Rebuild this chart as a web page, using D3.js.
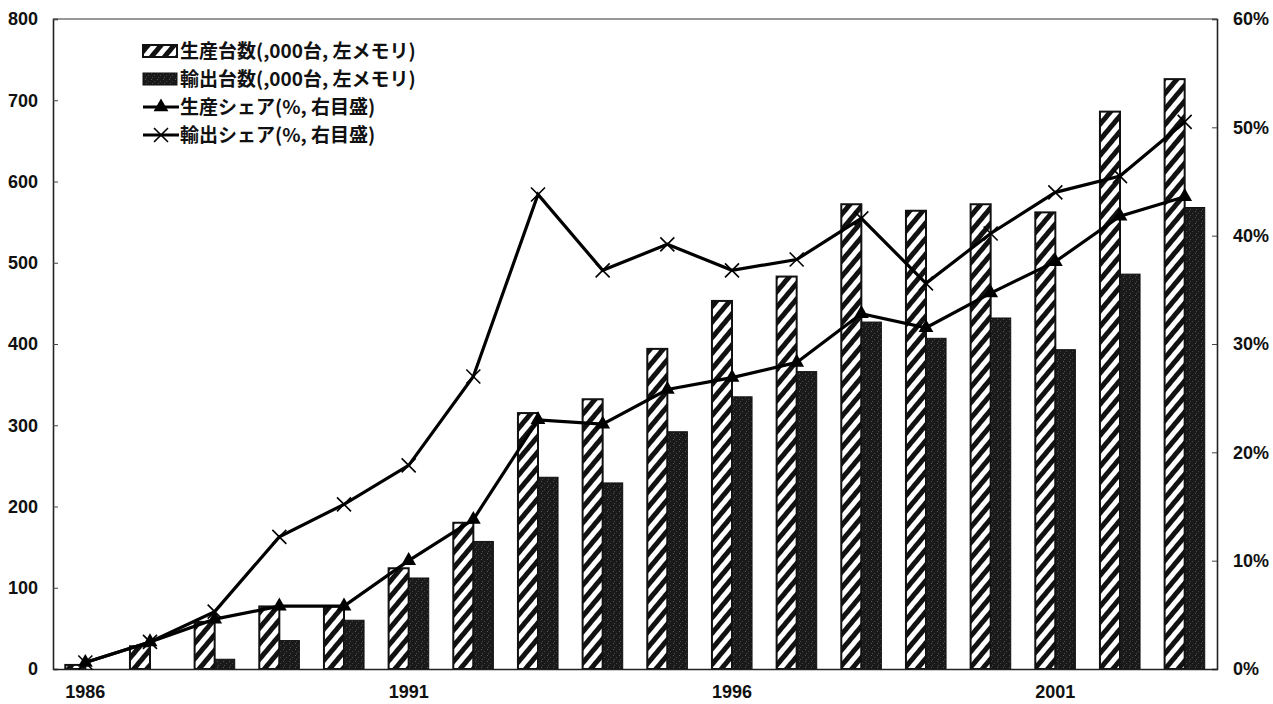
<!DOCTYPE html>
<html>
<head>
<meta charset="utf-8">
<script src="https://cdn.jsdelivr.net/npm/d3@7.9.0/dist/d3.min.js"></script>
<style>
  body { margin: 0; background: #fff; }
  svg { display: block; }
  .tick text { font-family: "Liberation Sans", Arial, sans-serif; font-weight: bold; font-size: 18px; fill: #111; }
  .legend text { font-family: "Noto Sans CJK JP", sans-serif; font-weight: bold; font-size: 19px; fill: #111; }
</style>
</head>
<body>
<svg width="1273" height="704"></svg>
<script>
// data
const years = [1986, 1987, 1988, 1989, 1990, 1991, 1992, 1993, 1994, 1995, 1996, 1997, 1998, 1999, 2000, 2001, 2002, 2003];
const production = [5, 28, 58, 77, 77, 124, 180, 315, 332, 394, 453, 483, 572, 564, 572, 562, 686, 726];
const exportUnits = [0, 0, 12, 35, 60, 112, 157, 236, 229, 292, 335, 366, 427, 407, 432, 393, 486, 568];
const prodShare = [0.6, 2.5, 4.6, 5.8, 5.8, 10.0, 13.8, 23.0, 22.6, 25.8, 26.9, 28.3, 32.8, 31.5, 34.7, 37.6, 41.8, 43.6];
const exportShare = [0.6, 2.5, 5.3, 12.2, 15.2, 18.8, 27.0, 43.8, 36.8, 39.2, 36.8, 37.8, 41.6, 35.6, 40.2, 44.0, 45.5, 50.5];
const xTickLabels = [1986, 1991, 1996, 2001];
const leftTicks = [0, 100, 200, 300, 400, 500, 600, 700, 800];
const rightTicks = [0, 10, 20, 30, 40, 50, 60];
const legendLabels = ['生産台数(,000台, 左メモリ)', '輸出台数(,000台, 左メモリ)', '生産シェア(%, 右目盛)', '輸出シェア(%, 右目盛)'];

const svg = d3.select('svg');
const plotL = 53, plotR = 1217, plotT = 19, plotB = 669;

const x = d3.scaleBand().domain(years).range([plotL, plotR]).paddingInner(0.38).paddingOuter(0.19);
const xSub = d3.scaleBand().domain(['p', 'e']).range([0, x.bandwidth()]);
const y = d3.scaleLinear().domain([0, 800]).range([plotB, plotT]);
const y2 = d3.scaleLinear().domain([0, 60]).range([plotB, plotT]);

// hatch pattern
const defs = svg.append('defs');
const pat = defs.append('pattern')
  .attr('id', 'hatch')
  .attr('patternUnits', 'userSpaceOnUse')
  .attr('width', 10).attr('height', 10)
  .attr('patternTransform', 'rotate(40)');
pat.append('rect').attr('width', 10).attr('height', 10).attr('fill', '#fff');
pat.append('rect').attr('width', 5).attr('height', 10).attr('fill', '#111');

const dots = defs.append('pattern')
  .attr('id', 'speckle')
  .attr('patternUnits', 'userSpaceOnUse')
  .attr('width', 6).attr('height', 6);
dots.append('rect').attr('width', 6).attr('height', 6).attr('fill', '#1a1a1a');
dots.append('rect').attr('x', 1).attr('y', 1).attr('width', 1).attr('height', 1).attr('fill', '#555');
dots.append('rect').attr('x', 4).attr('y', 3).attr('width', 1).attr('height', 1).attr('fill', '#444');
dots.append('rect').attr('x', 2).attr('y', 5).attr('width', 1).attr('height', 1).attr('fill', '#4a4a4a');

// frame
svg.append('line').attr('x1', plotL).attr('x2', plotR).attr('y1', plotT).attr('y2', plotT)
  .attr('stroke', '#333').attr('stroke-width', 1.2);

// bars
const g = svg.append('g');
years.forEach((yr, i) => {
  g.append('rect')
    .attr('x', x(yr) + xSub('p'))
    .attr('y', y(production[i]))
    .attr('width', xSub.bandwidth())
    .attr('height', plotB - y(production[i]))
    .attr('fill', 'url(#hatch)')
    .attr('stroke', '#111').attr('stroke-width', 2);
  if (exportUnits[i] > 0) {
    g.append('rect')
      .attr('x', x(yr) + xSub('e'))
      .attr('y', y(exportUnits[i]))
      .attr('width', xSub.bandwidth())
      .attr('height', plotB - y(exportUnits[i]))
      .attr('fill', 'url(#speckle)')
      .attr('stroke', '#111').attr('stroke-width', 1);
  }
});

// axes
const axL = svg.append('g').attr('transform', `translate(${plotL},0)`)
  .call(d3.axisLeft(y).tickValues(leftTicks).tickSize(-5).tickPadding(15));
const axR = svg.append('g').attr('transform', `translate(${plotR},0)`)
  .call(d3.axisRight(y2).tickValues(rightTicks).tickSize(-5).tickPadding(16).tickFormat(d => d + '%'));
const axB = svg.append('g').attr('transform', `translate(0,${plotB})`)
  .call(d3.axisBottom(x).tickValues(xTickLabels).tickSize(0).tickPadding(16));
[axL, axR, axB].forEach(a => {
  a.select('.domain').attr('stroke', '#222').attr('stroke-width', 1.6);
  a.selectAll('.tick line').attr('stroke', '#444');
});
axL.selectAll('.tick text').attr('x', -15);

// lines
const cx = (d, i) => x(years[i]) + x.bandwidth() / 2;
const line1 = d3.line().x(cx).y(d => y2(d));
svg.append('path').datum(prodShare).attr('d', line1)
  .attr('fill', 'none').attr('stroke', '#000').attr('stroke-width', 3.2);
svg.append('path').datum(exportShare).attr('d', line1)
  .attr('fill', 'none').attr('stroke', '#000').attr('stroke-width', 3.2);

const tri = d3.symbol().type(d3.symbolTriangle).size(95);
svg.selectAll('.tri').data(prodShare).join('path')
  .attr('class', 'tri')
  .attr('transform', (d, i) => `translate(${cx(d, i)},${y2(d)})`)
  .attr('d', tri).attr('fill', '#000');

svg.selectAll('.cross').data(exportShare).join('path')
  .attr('class', 'cross')
  .attr('transform', (d, i) => `translate(${cx(d, i)},${y2(d)})`)
  .attr('d', 'M-7,-7L7,7M-7,7L7,-7')
  .attr('stroke', '#000').attr('stroke-width', 1.6);

// legend
const lg = svg.append('g').attr('class', 'legend');
const lx = 143, ly = 51, step = 28;
legendLabels.forEach((lab, i) => {
  const yy = ly + i * step;
  if (i === 0) {
    lg.append('rect').attr('x', lx).attr('y', yy - 6).attr('width', 34).attr('height', 12)
      .attr('fill', 'url(#hatch)').attr('stroke', '#111').attr('stroke-width', 2);
  } else if (i === 1) {
    lg.append('rect').attr('x', lx).attr('y', yy - 6).attr('width', 34).attr('height', 12)
      .attr('fill', 'url(#speckle)').attr('stroke', '#111').attr('stroke-width', 1);
  } else {
    lg.append('line').attr('x1', lx).attr('x2', lx + 36).attr('y1', yy).attr('y2', yy)
      .attr('stroke', '#000').attr('stroke-width', 3);
    if (i === 2) {
      lg.append('path').attr('transform', `translate(${lx + 18},${yy})`).attr('d', tri).attr('fill', '#000');
    } else {
      lg.append('path').attr('transform', `translate(${lx + 18},${yy})`)
        .attr('d', 'M-7,-7L7,7M-7,7L7,-7').attr('stroke', '#000').attr('stroke-width', 1.6);
    }
  }
  lg.append('text').attr('x', lx + 37).attr('y', yy).attr('dy', '0.36em').text(lab);
});
</script>
</body>
</html>
